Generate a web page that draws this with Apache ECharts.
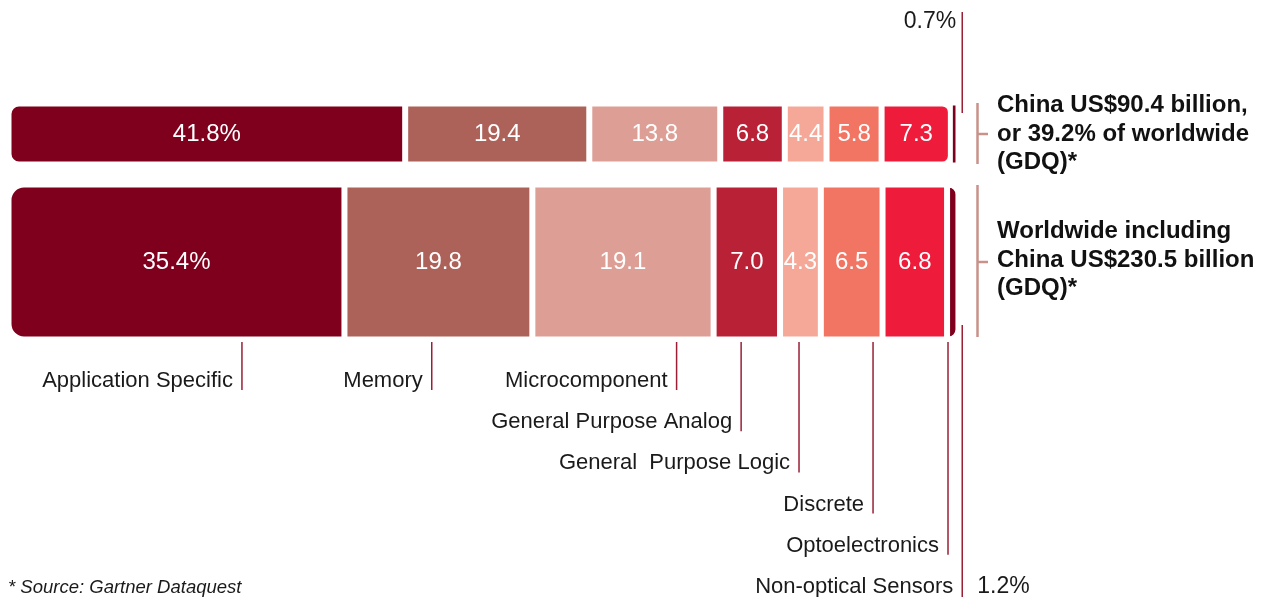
<!DOCTYPE html>
<html>
<head>
<meta charset="utf-8">
<script src="https://cdn.jsdelivr.net/npm/echarts@6/dist/echarts.min.js"></script>
<style>
html,body{margin:0;padding:0;background:#fff;}
#chart{width:1267px;height:597px;}
</style>
</head>
<body>
<div id="chart"></div>
<script>
// ---- data ----
const categories = ['Application Specific', 'Memory', 'Microcomponent', 'General Purpose Analog',
  'General  Purpose Logic', 'Discrete', 'Optoelectronics', 'Non-optical Sensors'];
const chinaShare = [41.8, 19.4, 13.8, 6.8, 4.4, 5.8, 7.3, 0.7];
const worldShare = [35.4, 19.8, 19.1, 7.0, 4.3, 6.5, 6.8, 1.2];
const barNames = ['China', 'Worldwide'];
const chinaNote = ['China US$90.4 billion,', 'or 39.2% of worldwide', '(GDQ)*'];
const worldNote = ['Worldwide including', 'China US$230.5 billion', '(GDQ)*'];
const sourceNote = '* Source: Gartner Dataquest';

// ---- styling / layout ----
const colors = ['#7f001c', '#ad6259', '#dd9e95', '#b82136', '#f6a898', '#f27564', '#ee1c3a', '#7f001c'];
const FONT = '"Liberation Sans", Arial, Helvetica, sans-serif';
const leaderAt = [24.6, 44.6, 70.4, 77.2, 83.3, 91.1, 99.0, 100.5];
const leaderRow = [0, 0, 0, 1, 2, 3, 4, 5];
const lineColor = '#9a1f35';

const chart = echarts.init(document.getElementById('chart'), null, {renderer: 'canvas'});

function fmt(i) {
  return function (p) { return i === 0 ? p.value.toFixed(1) + '%' : p.value.toFixed(1); };
}

const series = [];
categories.forEach(function (name, i) {
  series.push({
    type: 'bar', name: name, xAxisIndex: 0, yAxisIndex: 0, stack: 'china',
    barWidth: '100%', data: [chinaShare[i]], silent: true,
    itemStyle: {color: colors[i], borderColor: '#fff', borderWidth: i === 7 ? 2 : 3,
      borderRadius: i === 0 ? [9, 0, 0, 9] : (i === 6 ? [0, 7, 7, 0] : 0)},
    label: {show: i < 7, position: 'inside', color: '#fff', fontSize: 24, fontFamily: FONT, formatter: fmt(i)}
  });
  series.push({
    type: 'bar', name: name, xAxisIndex: 1, yAxisIndex: 1, stack: 'world',
    barWidth: '100%', data: [worldShare[i]], silent: true,
    itemStyle: {color: colors[i], borderColor: '#fff', borderWidth: 3,
      borderRadius: i === 0 ? [14, 0, 0, 14] : (i === 7 ? [0, 9, 9, 0] : 0)},
    label: {show: i < 7, position: 'inside', color: '#fff', fontSize: 24, fontFamily: FONT, formatter: fmt(i)}
  });
});

// leader for the small China segment (top)
series.push({
  type: 'custom', xAxisIndex: 0, yAxisIndex: 0, silent: true, clip: false,
  data: [[leaderAt[7], 0]],
  encode: {x: 0, y: 1},
  renderItem: function (params, api) {
    const x = api.coord([api.value(0), 0])[0];
    const yc = api.coord([0, 0])[1];
    const h = api.size([0, 1])[1];
    const barTop = yc - h / 2 + 1.5;
    return {type: 'group', children: [
      {type: 'line', shape: {x1: x, y1: barTop - 93, x2: x, y2: barTop + 8},
        style: {stroke: lineColor, lineWidth: 1.5}},
      {type: 'text', style: {text: chinaShare[7].toFixed(1) + '%', x: x - 6, y: barTop - 83,
        align: 'right', verticalAlign: 'middle', textAlign: 'right', textVerticalAlign: 'middle',
        font: '23px ' + FONT, fill: '#1a1a1a'}}
    ]};
  }
});

// category leaders under the worldwide bar
series.push({
  type: 'custom', xAxisIndex: 1, yAxisIndex: 1, silent: true, clip: false,
  data: categories.map(function (c, i) { return [leaderAt[i], 0, leaderRow[i], i]; }),
  encode: {x: 0, y: 1},
  renderItem: function (params, api) {
    const x = api.coord([api.value(0), 0])[0];
    const row = api.value(2);
    const idx = api.value(3);
    const yc = api.coord([0, 0])[1];
    const h = api.size([0, 1])[1];
    const barBottom = yc + h / 2 - 1.5;
    const labelY = barBottom + 43 + row * 41.2;
    const last = row === 5;
    const children = [
      {type: 'line', shape: {x1: x, y1: last ? barBottom - 13 : barBottom + 4, x2: x, y2: last ? 600 : labelY + 9},
        style: {stroke: lineColor, lineWidth: 1.5}},
      {type: 'text', style: {text: categories[idx], x: x - 9, y: labelY,
        align: 'right', verticalAlign: 'middle', textAlign: 'right', textVerticalAlign: 'middle',
        font: '22px ' + FONT, fill: '#1a1a1a'}}
    ];
    if (last) {
      children.push({type: 'text', style: {text: worldShare[idx].toFixed(1) + '%', x: x + 15, y: labelY,
        align: 'left', verticalAlign: 'middle', textAlign: 'left', textVerticalAlign: 'middle',
        font: '23px ' + FONT, fill: '#1a1a1a'}});
    }
    return {type: 'group', children: children};
  }
});

const bracketColor = '#c9918a';
const option = {
  animation: false,
  backgroundColor: '#fff',
  textStyle: {fontFamily: FONT},
  grid: [
    {left: 8.5, width: 949, top: 103.5, height: 61},
    {left: 8.5, width: 949, top: 184.5, height: 155}
  ],
  xAxis: [
    {type: 'value', gridIndex: 0, min: 0, max: 100, show: false},
    {type: 'value', gridIndex: 1, min: 0, max: 100, show: false}
  ],
  yAxis: [
    {type: 'category', gridIndex: 0, data: [barNames[0]], show: false},
    {type: 'category', gridIndex: 1, data: [barNames[1]], show: false}
  ],
  series: series,
  graphic: [
    {type: 'polyline', silent: true, shape: {points: [[977.5, 103], [977.5, 164]]}, style: {stroke: bracketColor, lineWidth: 2.5, fill: null}},
    {type: 'line', silent: true, shape: {x1: 977.5, y1: 134, x2: 988, y2: 134}, style: {stroke: bracketColor, lineWidth: 2.5}},
    {type: 'polyline', silent: true, shape: {points: [[977.5, 185], [977.5, 337]]}, style: {stroke: bracketColor, lineWidth: 2.5, fill: null}},
    {type: 'line', silent: true, shape: {x1: 977.5, y1: 262, x2: 988, y2: 262}, style: {stroke: bracketColor, lineWidth: 2.5}},
    {type: 'text', silent: true, x: 997, y: 134, style: {text: chinaNote.join('\n'), font: 'bold 24px ' + FONT,
      lineHeight: 28.5, fill: '#111', align: 'left', verticalAlign: 'middle'}},
    {type: 'text', silent: true, x: 997, y: 260, style: {text: worldNote.join('\n'), font: 'bold 24px ' + FONT,
      lineHeight: 28.5, fill: '#111', align: 'left', verticalAlign: 'middle'}},
    {type: 'text', silent: true, x: 8, y: 588, style: {text: sourceNote, font: 'italic 18.5px ' + FONT,
      fill: '#1a1a1a', align: 'left', verticalAlign: 'middle'}}
  ]
};
chart.setOption(option);
</script>
</body>
</html>
